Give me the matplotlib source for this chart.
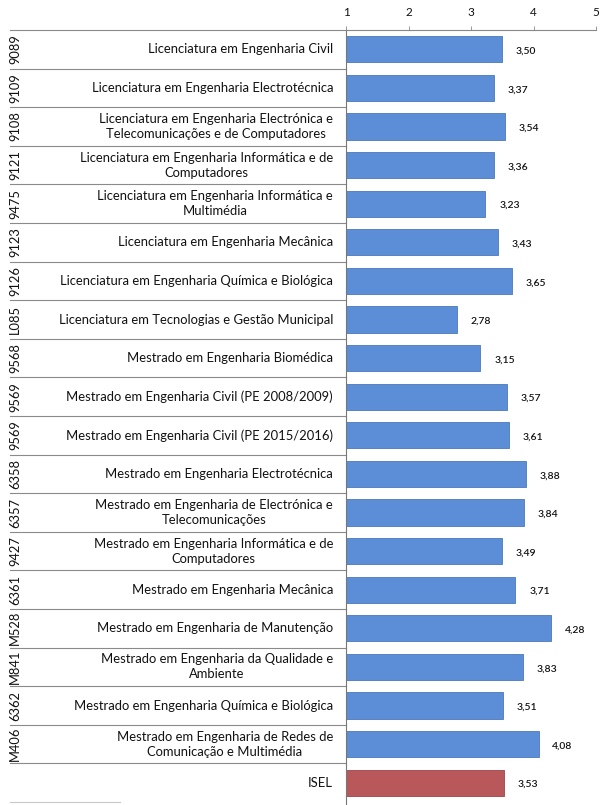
import matplotlib
matplotlib.use('Agg')
import matplotlib.pyplot as plt
import matplotlib.transforms as mtransforms

plt.rcParams['font.family'] = ['Lato', 'DejaVu Sans']

codes = ['9089', '9109', '9108', '9121', '9475', '9123', '9126', 'L085', '9568', '9569',
         '9569', '6358', '6357', '9427', '6361', 'M528', 'M841', '6362', 'M406', '']
courses = [
    'Licenciatura em Engenharia Civil',
    'Licenciatura em Engenharia Electrotécnica',
    'Licenciatura em Engenharia Electrónica e\nTelecomunicações e de Computadores',
    'Licenciatura em Engenharia Informática e de\nComputadores',
    'Licenciatura em Engenharia Informática e\nMultimédia',
    'Licenciatura em Engenharia Mecânica',
    'Licenciatura em Engenharia Química e Biológica',
    'Licenciatura em Tecnologias e Gestão Municipal',
    'Mestrado em Engenharia Biomédica',
    'Mestrado em Engenharia Civil (PE 2008/2009)',
    'Mestrado em Engenharia Civil (PE 2015/2016)',
    'Mestrado em Engenharia Electrotécnica',
    'Mestrado em Engenharia de Electrónica e\nTelecomunicações',
    'Mestrado em Engenharia Informática e de\nComputadores',
    'Mestrado em Engenharia Mecânica',
    'Mestrado em Engenharia de Manutenção',
    'Mestrado em Engenharia da Qualidade e\nAmbiente',
    'Mestrado em Engenharia Química e Biológica',
    'Mestrado em Engenharia de Redes de\nComunicação e Multimédia',
    'ISEL',
]
values = [3.50, 3.37, 3.54, 3.36, 3.23, 3.43, 3.65, 2.78, 3.15, 3.57,
          3.61, 3.88, 3.84, 3.49, 3.71, 4.28, 3.83, 3.51, 4.08, 3.53]

W, H = 602, 805
fig = plt.figure(figsize=(W / 100, H / 100), dpi=100)
ax = fig.add_axes([346 / W, 1 - 802 / H, 250 / W, (802 - 30) / H])

n = len(values)
ypos = list(range(n))
colors = ['#5b8ed6'] * (n - 1) + ['#b9585b']
edges = ['#4a78bd'] * (n - 1) + ['#9c4447']
ax.barh(ypos, [v - 1 for v in values], left=1, height=0.68,
        color=colors, edgecolor=edges, linewidth=0.6)

for y, v in zip(ypos, values):
    ax.text(v + 0.22, y + 0.05, f'{v:.2f}'.replace('.', ','), va='center', ha='left',
            fontsize=7.5, color='#111111', fontweight='semibold')

ax.set_xlim(1, 5)
ax.set_ylim(n - 0.5, -0.5)
ax.xaxis.tick_top()
ax.set_xticks([1, 2, 3, 4, 5])
ax.tick_params(axis='x', length=3, width=0.6, color='#888888', labelsize=8.5,
               labelcolor='#111111', pad=6)
ax.set_yticks([])
for s in ['right', 'bottom']:
    ax.spines[s].set_visible(False)
ax.spines['top'].set_color('#888888')
ax.spines['top'].set_linewidth(0.8)
ax.spines['left'].set_color('#777777')
ax.spines['left'].set_linewidth(0.8)
ax.spines['left'].set_bounds(n - 0.5 + 0.1, -0.5)

# table part on the left
trans = mtransforms.blended_transform_factory(fig.transFigure, ax.transData)
for i in range(n):
    ax.plot([10 / W, 346 / W], [i - 0.5, i - 0.5], transform=trans, color='#8a8a8a',
            lw=0.8, clip_on=False)
ax.plot([10 / W, 120 / W], [n - 0.5, n - 0.5], transform=trans, color='#c8c8c8',
        lw=0.8, clip_on=False)

for i, (c, name) in enumerate(zip(codes, courses)):
    ax.text(333 / W, i, name, transform=trans, ha='right', va='center',
            multialignment='center', fontsize=9.4, color='#111111', linespacing=1.3)
    if c:
        ax.text(15 / W, i, c, transform=trans, ha='center', va='center', rotation=90,
                fontsize=9.3, color='#111111')

fig.savefig('out.png', dpi=100)
